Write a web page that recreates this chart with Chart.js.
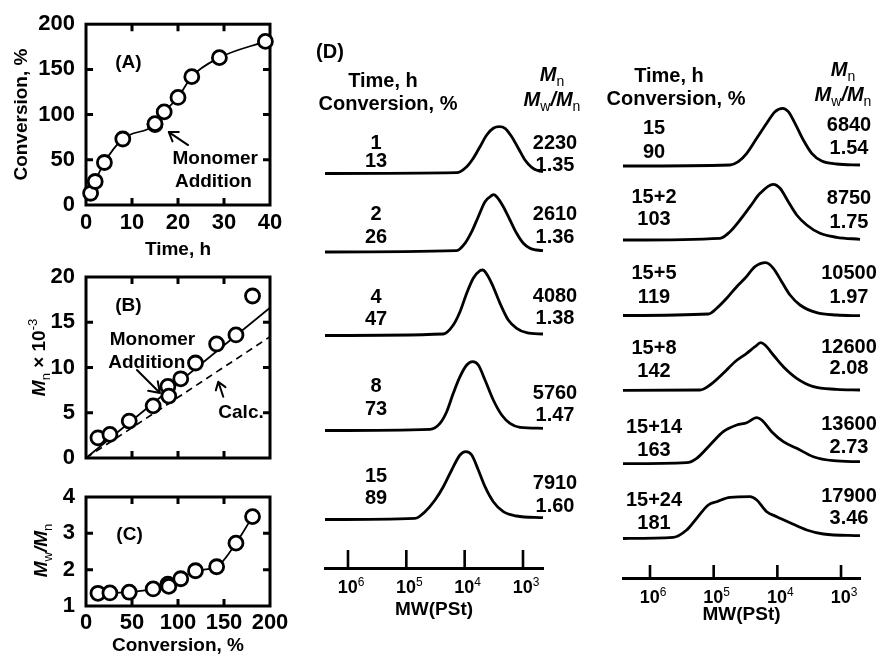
<!DOCTYPE html>
<html><head><meta charset="utf-8">
<script src="https://cdn.jsdelivr.net/npm/chart.js@4.4.1/dist/chart.umd.min.js"></script>
<style>
html,body{margin:0;padding:0;background:#fff;overflow:hidden;}
#wrap{position:relative;width:877px;height:655px;background:#fff;}
canvas{position:absolute;left:0;top:0;}
</style></head>
<body><div id="wrap">
<canvas id="cA" width="877" height="655"></canvas>
<canvas id="cB" width="877" height="655"></canvas>
<canvas id="cC" width="877" height="655"></canvas>
<canvas id="cD1" width="877" height="655"></canvas>
<canvas id="cD2" width="877" height="655"></canvas>
</div>
<script>
// ================= DATA =================
// Run 1 (before monomer addition)
const timeRun1 = [1, 2, 4, 8, 15];
const timeLabelsRun1 = ['1', '2', '4', '8', '15'];
const convRun1 = [13, 26, 47, 73, 89];
const mnRun1 = [2230, 2610, 4080, 5760, 7910];
const pdiRun1 = [1.35, 1.36, 1.38, 1.47, 1.60];
// Run 2 (monomer addition at 15 h)
const timeRun2 = [15, 17, 20, 23, 29, 39];
const timeLabelsRun2 = ['15', '15+2', '15+5', '15+8', '15+14', '15+24'];
const convRun2 = [90, 103, 119, 142, 163, 181];
const mnRun2 = [6840, 8750, 10500, 12600, 13600, 17900];
const pdiRun2 = [1.54, 1.75, 1.97, 2.08, 2.73, 3.46];
// Panel B lines (conversion %, Mn x 10^-3)
const mnFitLine = [[0, 0], [200, 16.6]];
const mnCalcLine = [[0, 0], [200, 13.4]];
// Tick values
const timeTicks = [0, 10, 20, 30, 40];
const convAxisTicks = [0, 50, 100, 150, 200];
const convTicksA = [0, 50, 100, 150, 200];
const mnTicks = [0, 5, 10, 15, 20];
const pdiTicks = [1, 2, 3, 4];
const mwDecades = [6, 5, 4, 3];
// GPC traces: [log10(MW), detector response]
const gpcRun1 = [
  [[6.394,0],[4.137,0.8],[3.965,6.8],[3.852,15.2],[3.737,26.8],[3.622,38.5],[3.509,45.2],[3.406,46.8],[3.308,45.2],[3.194,36.8],[3.080,25.2],[2.966,13.5],[2.851,6.2],[2.737,2.8],[2.657,1.8]],
  [[6.394,0],[4.137,1.3],[3.994,8.7],[3.879,20.3],[3.766,35.3],[3.651,50.3],[3.537,56.5],[3.505,57.3],[3.451,55.3],[3.337,45.3],[3.223,32],[3.109,18.7],[2.994,8.7],[2.88,3.7],[2.765,2],[2.657,1.3]],
  [[6.394,0],[4.366,1.5],[4.195,10.5],[4.08,23.8],[3.965,42.2],[3.852,57.2],[3.737,64.8],[3.69,65.5],[3.651,63.8],[3.537,52.2],[3.394,32.2],[3.252,15.5],[3.108,7.2],[2.937,2.8],[2.657,1.5]],
  [[6.394,0],[4.594,1.2],[4.423,7.2],[4.308,18.8],[4.195,37.2],[4.08,53.8],[3.965,65.5],[3.862,68.8],[3.766,65.5],[3.651,50.5],[3.509,30.5],[3.365,15.5],[3.223,7.2],[3.051,3.2],[2.657,2.2]],
  [[6.394,0],[4.851,1.2],[4.68,7.8],[4.508,19.5],[4.366,32.8],[4.222,49.5],[4.08,64.5],[3.982,67.8],[3.879,64.5],[3.766,49.5],[3.651,32.8],[3.509,17.8],[3.337,7.8],[3.108,3.5],[2.657,1.8]]
];
const gpcRun2 = [
  [[6.424,0],[4.744,1],[4.613,4.3],[4.481,12.7],[4.324,27.7],[4.167,42.7],[4.037,54.3],[3.916,57.7],[3.828,54.3],[3.723,42.7],[3.592,26],[3.46,12.7],[3.303,5],[3.068,2],[2.702,1]],
  [[6.424,0],[4.901,1.7],[4.744,8.3],[4.586,20],[4.429,33.3],[4.272,46.7],[4.063,55.7],[3.958,51.7],[3.828,38.3],[3.696,25],[3.539,15],[3.33,6.7],[3.068,2.7],[2.702,0.7]],
  [[6.424,0.5],[5.084,2],[4.953,7.7],[4.796,17.7],[4.638,29.3],[4.508,37.7],[4.351,49.3],[4.183,53.3],[4.063,47.7],[3.932,34.3],[3.801,21],[3.644,11],[3.382,3.3],[3.068,1],[2.702,0.3]],
  [[6.424,0],[5.215,0.3],[5.058,5.3],[4.849,17],[4.665,28.6],[4.481,37],[4.351,43.6],[4.261,47.6],[4.194,45.3],[4.063,35.3],[3.906,23.6],[3.696,12],[3.435,3.6],[3.068,1],[2.702,0.3]],
  [[6.424,0],[5.424,1],[5.267,5.4],[5.058,18.7],[4.849,32],[4.638,38.7],[4.481,41],[4.324,46],[4.246,43.7],[4.089,32],[3.906,22],[3.696,15.4],[3.435,7],[3.121,3],[2.702,2]],
  [[6.424,0],[5.634,1.2],[5.424,8.5],[5.267,20.2],[5.084,33.5],[4.953,36.8],[4.744,41.2],[4.429,41.8],[4.324,38.5],[4.167,26.8],[4.01,21.8],[3.801,15.8],[3.539,8.5],[3.278,4.5],[2.702,2.8]]
];

// ================= LAYOUT / STYLE =================
const FAM = '"Liberation Sans", Arial, Helvetica, sans-serif';
const F = (size, o = {}) => `${o.italic ? 'italic ' : ''}${o.bold === false ? '' : 'bold '}${size}px ${FAM}`;
const tickFont = {family: FAM, size: 22, weight: 'bold'};
const titleFont = {family: FAM, size: 19, weight: 'bold'};
// stacking of GPC traces (baseline heights in y-units of each panel)
const stackLeft = [394.5, 316, 232.5, 137.5, 48.5];
const stackRight = [412, 338, 262, 187.7, 114.3, 39.5];

function txt(ctx, s, x, y, align = 'center', size = 19, o = {}) {
  ctx.save(); ctx.font = F(size, o); ctx.fillStyle = '#000';
  ctx.textAlign = align; ctx.textBaseline = 'middle'; ctx.fillText(s, x, y); ctx.restore();
}
function rich(ctx, segs, x, y, align = 'center', rotate = false) {
  ctx.save(); ctx.translate(x, y); if (rotate) ctx.rotate(-Math.PI / 2);
  ctx.fillStyle = '#000'; ctx.textBaseline = 'alphabetic'; ctx.textAlign = 'left';
  let w = 0;
  segs.forEach(s => { ctx.font = F(s.size, s); w += ctx.measureText(s.t).width; });
  let cx = align === 'center' ? -w / 2 : (align === 'right' ? -w : 0);
  segs.forEach(s => { ctx.font = F(s.size, s); ctx.fillText(s.t, cx, s.dy || 0); cx += ctx.measureText(s.t).width; });
  ctx.restore();
}
function arrow(ctx, x1, y1, x2, y2, head = 10, lw = 2) {
  const ang = Math.atan2(y2 - y1, x2 - x1);
  ctx.save(); ctx.strokeStyle = '#000'; ctx.lineWidth = lw; ctx.lineCap = 'round'; ctx.lineJoin = 'round';
  ctx.beginPath(); ctx.moveTo(x1, y1); ctx.lineTo(x2, y2);
  const a1 = ang + Math.PI - 0.6, a2 = ang + Math.PI + 0.6;
  ctx.moveTo(x2 + head * Math.cos(a1), y2 + head * Math.sin(a1)); ctx.lineTo(x2, y2);
  ctx.lineTo(x2 + head * Math.cos(a2), y2 + head * Math.sin(a2));
  ctx.stroke(); ctx.restore();
}
function framePlugin(xTicks, yTicks) {
  return {
    id: 'frame',
    beforeDatasetsDraw(chart) {
      const {ctx, chartArea: a, scales: {x, y}} = chart;
      ctx.save(); ctx.strokeStyle = '#000'; ctx.lineWidth = 3;
      ctx.strokeRect(a.left, a.top, a.right - a.left, a.bottom - a.top);
      const L = 7; ctx.beginPath();
      xTicks.forEach(v => { const p = x.getPixelForValue(v);
        ctx.moveTo(p, a.bottom); ctx.lineTo(p, a.bottom - L); ctx.moveTo(p, a.top); ctx.lineTo(p, a.top + L); });
      yTicks.forEach(v => { const p = y.getPixelForValue(v);
        ctx.moveTo(a.left, p); ctx.lineTo(a.left + L, p); ctx.moveTo(a.right, p); ctx.lineTo(a.right - L, p); });
      ctx.stroke(); ctx.restore();
    }
  };
}
const P = (chart, x, y) => [chart.scales.x.getPixelForValue(x), chart.scales.y.getPixelForValue(y)];
const fixedTicks = arr => (s => { s.ticks = arr.map(v => ({value: v})); });
const pts = (xs, ys) => xs.map((x, i) => ({x, y: ys[i]}));
const baseOpts = {responsive: false, animation: false, events: [],
  plugins: {legend: {display: false}, tooltip: {enabled: false}}};
const hidden = {grid: {display: false, drawTicks: false}, border: {display: false}};
const circleDs = data => ({data, showLine: false, pointRadius: 7, pointBorderWidth: 2.8,
  pointBackgroundColor: '#fff', pointBorderColor: '#000', clip: false, order: 0});
const lineDs = (data, extra = {}) => Object.assign({data, showLine: true, pointRadius: 0, borderColor: '#000',
  borderWidth: 1.7, clip: false, order: 1}, extra);

// ================= PANEL A =================
const allTime = timeRun1.concat(timeRun2);
const allConv = convRun1.concat(convRun2);
const allMn = mnRun1.concat(mnRun2);
const allPdi = pdiRun1.concat(pdiRun2);
const ptsA = pts(allTime, allConv);
const lineA = ptsA.filter((p, i) => ptsA.findIndex(q => q.x === p.x) === i).sort((a, b) => a.x - b.x);

new Chart(document.getElementById('cA'), {
  type: 'scatter',
  data: {datasets: [circleDs(ptsA), lineDs(lineA, {cubicInterpolationMode: 'monotone'})]},
  options: Object.assign({}, baseOpts, {
    layout: {padding: {left: 0, top: 24, right: 607, bottom: 390}},
    scales: {
      x: Object.assign({type: 'linear', min: 0, max: 40, afterBuildTicks: fixedTicks(timeTicks),
        afterFit: s => { s.height = 60; },
        ticks: {padding: 5, font: tickFont, color: '#000', maxRotation: 0, autoSkip: false},
        title: {display: true, text: 'Time, h', font: titleFont, color: '#000', padding: {top: 0, bottom: 4}}}, hidden),
      y: Object.assign({type: 'linear', min: 0, max: 200, afterBuildTicks: fixedTicks(convTicksA),
        afterFit: s => { s.width = 86; },
        ticks: {padding: 11, font: tickFont, color: '#000'},
        title: {display: true, text: 'Conversion, %', font: titleFont, color: '#000', padding: {top: 10, bottom: 0}}}, hidden)
    }
  }),
  plugins: [framePlugin([10, 20, 30], [50, 100, 150]), {
    id: 'annA',
    afterDatasetsDraw(chart) {
      const ctx = chart.ctx;
      txt(ctx, '(A)', ...P(chart, 9.2, 157), 'center', 19);
      txt(ctx, 'Monomer', ...P(chart, 28.1, 50.8), 'center', 19);
      txt(ctx, 'Addition', ...P(chart, 27.7, 25.4), 'center', 19);
      arrow(ctx, ...P(chart, 22.2, 66.3), ...P(chart, 18.0, 80.7), 10, 2);
    }
  }]
});

// ================= PANEL B =================
const ptsB = pts(allConv, allMn.map(v => v / 1000));
new Chart(document.getElementById('cB'), {
  type: 'scatter',
  data: {datasets: [
    circleDs(ptsB),
    lineDs(mnFitLine.map(([x, y]) => ({x, y}))),
    lineDs(mnCalcLine.map(([x, y]) => ({x, y})), {borderDash: [7, 5]})
  ]},
  options: Object.assign({}, baseOpts, {
    layout: {padding: {left: 0, top: 277, right: 607, bottom: 197}},
    scales: {
      x: {type: 'linear', display: false, min: 0, max: 200},
      y: Object.assign({type: 'linear', min: 0, max: 20, afterBuildTicks: fixedTicks(mnTicks),
        afterFit: s => { s.width = 86; },
        ticks: {padding: 11, font: tickFont, color: '#000'}}, hidden)
    }
  }),
  plugins: [framePlugin([50, 100, 150], [5, 10, 15]), {
    id: 'annB',
    afterDatasetsDraw(chart) {
      const ctx = chart.ctx;
      txt(ctx, '(B)', ...P(chart, 46, 16.8), 'center', 19);
      txt(ctx, 'Monomer', ...P(chart, 72.3, 13.04), 'center', 19);
      txt(ctx, 'Addition', ...P(chart, 66, 10.53), 'center', 19);
      arrow(ctx, ...P(chart, 55.4, 9.72), ...P(chart, 80.4, 7.18), 12, 2);
      txt(ctx, 'Calc.', ...P(chart, 168.5, 4.97), 'center', 19);
      arrow(ctx, ...P(chart, 149.2, 6.77), ...P(chart, 143.8, 8.43), 9, 2);
      rich(ctx, [{t: 'M', size: 19, italic: true}, {t: 'n', size: 13, bold: false, dy: 5},
        {t: ' × 10', size: 19}, {t: '-3', size: 13, bold: false, dy: -8}], 45, (chart.chartArea.top + chart.chartArea.bottom) / 2 - 10, 'center', true);
    }
  }]
});

// ================= PANEL C =================
const ptsC = pts(allConv, allPdi);
const lineC = ptsC.slice().sort((a, b) => a.x - b.x);
new Chart(document.getElementById('cC'), {
  type: 'scatter',
  data: {datasets: [circleDs(ptsC), lineDs(lineC, {cubicInterpolationMode: 'monotone'})]},
  options: Object.assign({}, baseOpts, {
    layout: {padding: {left: 0, top: 497, right: 607, bottom: 0}},
    scales: {
      x: Object.assign({type: 'linear', min: 0, max: 200, afterBuildTicks: fixedTicks(convAxisTicks),
        afterFit: s => { s.height = 49; },
        ticks: {padding: 4, font: tickFont, color: '#000', maxRotation: 0, autoSkip: false},
        title: {display: true, text: 'Conversion, %', font: titleFont, color: '#000', padding: {top: 0, bottom: -2.5}}}, hidden),
      y: Object.assign({type: 'linear', min: 1, max: 4, afterBuildTicks: fixedTicks(pdiTicks),
        afterFit: s => { s.width = 86; },
        ticks: {padding: 11, font: tickFont, color: '#000'}}, hidden)
    }
  }),
  plugins: [framePlugin([50, 100, 150], [2, 3]), {
    id: 'annC',
    afterDatasetsDraw(chart) {
      const ctx = chart.ctx;
      txt(ctx, '(C)', ...P(chart, 47.3, 2.97), 'center', 19);
      rich(ctx, [{t: 'M', size: 19, italic: true}, {t: 'w', size: 13, bold: false, dy: 5},
        {t: '/', size: 19, italic: true}, {t: 'M', size: 19, italic: true}, {t: 'n', size: 13, bold: false, dy: 5}],
        47, (chart.chartArea.top + chart.chartArea.bottom) / 2 - 1, 'center', true);
    }
  }]
});

// ================= PANEL D =================
const mnHeader = [{t: 'M', size: 20, italic: true}, {t: 'n', size: 14, bold: false, dy: 5}];
const pdiHeader = [{t: 'M', size: 20, italic: true}, {t: 'w', size: 14, bold: false, dy: 5},
  {t: '/', size: 20, italic: true}, {t: 'M', size: 20, italic: true}, {t: 'n', size: 14, bold: false, dy: 5}];

function gpcChart(id, traces, stack, lgMin, lgMax, yMax, pad, col) {
  new Chart(document.getElementById(id), {
    type: 'scatter',
    data: {datasets: traces.map((tr, i) => ({
      data: tr.map(([lg, s]) => ({x: Math.pow(10, lg), y: stack[i] + s})),
      showLine: true, pointRadius: 0, borderColor: '#000', borderWidth: 2.8,
      cubicInterpolationMode: 'monotone', clip: 4
    }))},
    options: Object.assign({}, baseOpts, {
      layout: {padding: pad},
      scales: {
        x: {type: 'logarithmic', reverse: true, bounds: 'data', min: Math.pow(10, lgMin), max: Math.pow(10, lgMax),
          ticks: {display: false}, grid: {display: false, drawTicks: false},
          border: {display: true, width: 3, color: '#000'}, afterFit: s => { s.height = 0; }},
        y: {type: 'linear', display: false, min: 0, max: yMax}
      }
    }),
    plugins: [{
      id: 'gpcText',
      afterDraw(chart) {
        const {ctx, chartArea: a, scales: {x}} = chart;
        // decade ticks pointing up and labels
        ctx.save(); ctx.strokeStyle = '#000'; ctx.lineWidth = 2.6; ctx.beginPath();
        mwDecades.forEach(e => { const p = x.getPixelForValue(Math.pow(10, e));
          ctx.moveTo(p, a.bottom); ctx.lineTo(p, a.bottom - col.tickLen); });
        ctx.stroke(); ctx.restore();
        mwDecades.forEach(e => { const p = x.getPixelForValue(Math.pow(10, e));
          rich(ctx, [{t: '10', size: 18}, {t: String(e), size: 12, bold: false, dy: -7}], p + 3, a.bottom + 25, 'center'); });
        txt(ctx, 'MW(PSt)', (a.left + a.right) / 2, col.titleY, 'center', 19);
        // headers
        if (col.panelLabel) txt(ctx, col.panelLabel, col.panelLabelX, col.panelLabelY, 'center', 20);
        txt(ctx, 'Time, h', col.hdrTimeX, col.hdrTimeY, 'center', 20);
        txt(ctx, 'Conversion, %', col.hdrConvX, col.hdrConvY, 'center', 20);
        rich(ctx, mnHeader, col.hdrMnX, col.hdrMnY, 'center');
        rich(ctx, pdiHeader, col.hdrMnX, col.hdrPdiY, 'center');
        // per-trace labels
        col.times.forEach((t, i) => {
          txt(ctx, t, col.leftX, col.timeY[i], 'center', 20);
          txt(ctx, String(col.conv[i]), col.leftX, col.convY[i], 'center', 20);
          txt(ctx, String(col.mn[i]), col.rightX, col.mnY[i], 'center', 20);
          txt(ctx, col.pdi[i].toFixed(2), col.rightX, col.pdiY[i], 'center', 20);
        });
      }
    }]
  });
}

gpcChart('cD1', gpcRun1, stackLeft, 2.657, 6.394, 538, {left: 325, right: 334, top: 30, bottom: 87}, {
  tickLen: 18, titleY: 610, panelLabel: '(D)', panelLabelX: 330, panelLabelY: 52,
  hdrTimeX: 383, hdrTimeY: 81, hdrConvX: 388, hdrConvY: 104, hdrMnX: 552, hdrMnY: 81, hdrPdiY: 106,
  times: timeLabelsRun1, conv: convRun1, mn: mnRun1, pdi: pdiRun1, leftX: 376, rightX: 555,
  timeY: [143, 214, 297, 386, 476], convY: [161.5, 237, 319, 409, 498],
  mnY: [143, 214, 296, 393, 483], pdiY: [165, 237, 318, 415, 506]
});
gpcChart('cD2', gpcRun2, stackRight, 2.702, 6.424, 548, {left: 623, right: 17, top: 30, bottom: 77}, {
  tickLen: 13, titleY: 615,
  hdrTimeX: 669, hdrTimeY: 76, hdrConvX: 676, hdrConvY: 99, hdrMnX: 843, hdrMnY: 76, hdrPdiY: 101,
  times: timeLabelsRun2, conv: convRun2, mn: mnRun2, pdi: pdiRun2, leftX: 654, rightX: 849,
  timeY: [128, 197, 273, 348, 427, 500], convY: [152, 219, 297, 371, 450, 523],
  mnY: [125, 198, 273, 347, 424, 496], pdiY: [148, 222, 297, 368, 447, 518]
});
</script>
</body></html>
